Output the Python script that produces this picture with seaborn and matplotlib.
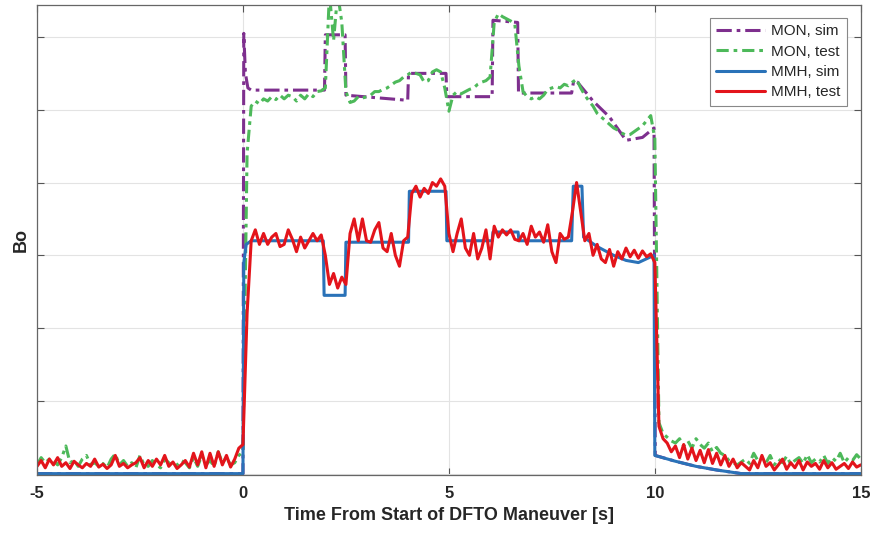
import numpy as np
import pandas as pd
import matplotlib
matplotlib.use("Agg")
import matplotlib.pyplot as plt
import seaborn as sns

# sim curves: breakpoints (y in grid units, no labels)
mon_sim_t = [-5.0, 0.0, 0.02, 0.06, 0.12, 0.2, 1.98, 2.0, 2.48, 2.5, 4.0, 4.02,
             4.93, 4.95, 6.05, 6.07, 6.67, 6.69, 7.98, 8.03, 8.12, 8.5, 8.9, 9.3,
             9.7, 9.98, 10.01, 10.5, 11.0, 11.5, 12.1, 15.0]
mon_sim_v = [0.0, 0.0, 6.05, 5.5, 5.3, 5.27, 5.27, 6.03, 6.03, 5.2, 5.13, 5.5,
             5.5, 5.18, 5.18, 6.23, 6.2, 5.23, 5.23, 5.4, 5.38, 5.12, 4.9, 4.58,
             4.62, 4.75, 0.25, 0.17, 0.1, 0.05, 0.0, 0.0]

mmh_sim_t = [-5.0, 0.0, 0.02, 0.08, 0.2, 1.95, 1.97, 2.48, 2.5, 4.02, 4.04, 4.93,
             4.95, 6.05, 6.07, 6.68, 6.7, 7.98, 8.02, 8.23, 8.27, 8.6, 9.0, 9.3,
             9.6, 9.98, 10.0, 10.5, 11.0, 11.5, 12.1, 15.0]
mmh_sim_v = [0.0, 0.0, 2.9, 3.15, 3.2, 3.2, 2.45, 2.45, 3.18, 3.18, 3.88, 3.88,
             3.2, 3.2, 3.32, 3.32, 3.2, 3.2, 3.95, 3.95, 3.25, 3.12, 3.0, 2.93,
             2.9, 3.0, 0.25, 0.17, 0.1, 0.05, 0.0, 0.0]

# test curves: sampled every 0.1 s from -5 to 15
test_t = np.round(np.linspace(-5, 15, 201), 1)

mon_test_v = [
    0.12, 0.22, 0.15, 0.20, 0.18, 0.12, 0.22, 0.38, 0.15, 0.18,
    0.10, 0.20, 0.25, 0.12, 0.15, 0.10, 0.14, 0.08, 0.20, 0.27,
    0.12, 0.18, 0.10, 0.15, 0.08, 0.25, 0.12, 0.10, 0.18, 0.12,
    0.08, 0.20, 0.15, 0.10, 0.12, 0.18, 0.15, 0.08, 0.22, 0.10,
    0.25, 0.12, 0.18, 0.10, 0.30, 0.15, 0.22, 0.12, 0.15, 0.25,
    0.30, 4.40, 5.05, 5.12, 5.08, 5.15, 5.12, 5.18, 5.14, 5.20,
    5.15, 5.20, 5.18, 5.12, 5.20, 5.15, 5.22, 5.18, 5.25, 5.26,
    5.30, 6.60, 5.95, 6.60, 6.20, 5.25, 5.10, 5.12, 5.18, 5.16,
    5.18, 5.20, 5.25, 5.25, 5.28, 5.30, 5.34, 5.38, 5.40, 5.45,
    5.48, 5.52, 5.50, 5.48, 5.38, 5.40, 5.52, 5.55, 5.52, 5.30,
    4.98, 5.20, 5.25, 5.22, 5.25, 5.28, 5.30, 5.35, 5.38, 5.40,
    5.45, 6.20, 6.32, 6.28, 6.25, 6.22, 6.18, 5.60, 5.25, 5.18,
    5.15, 5.18, 5.15, 5.20, 5.28, 5.30, 5.32, 5.30, 5.35, 5.33,
    5.38, 5.42, 5.30, 5.20, 5.12, 5.05, 4.95, 4.90, 4.85, 4.80,
    4.75, 4.72, 4.68, 4.65, 4.66, 4.70, 4.74, 4.78, 4.85, 4.92,
    4.60,
    0.70, 0.55, 0.50, 0.45, 0.42, 0.48, 0.38, 0.45, 0.35, 0.48,
    0.40, 0.35, 0.42, 0.30, 0.36, 0.28, 0.25, 0.18, 0.15, 0.12,
    0.16, 0.20, 0.14, 0.28, 0.18, 0.22, 0.15, 0.25, 0.12, 0.20,
    0.15, 0.24, 0.13, 0.18, 0.22, 0.14, 0.26, 0.15, 0.20, 0.16,
    0.25, 0.14, 0.22, 0.17, 0.28, 0.15, 0.22, 0.18, 0.26, 0.20,
]

mmh_test_v = [
    0.10, 0.18, 0.08, 0.20, 0.12, 0.22, 0.10, 0.15, 0.07, 0.17,
    0.12, 0.08, 0.14, 0.10, 0.20, 0.09, 0.13, 0.07, 0.12, 0.25,
    0.10, 0.14, 0.08, 0.12, 0.15, 0.22, 0.08, 0.18, 0.10, 0.20,
    0.12, 0.25, 0.10, 0.16, 0.07, 0.12, 0.18, 0.09, 0.28, 0.12,
    0.30, 0.08, 0.28, 0.10, 0.30, 0.12, 0.25, 0.09, 0.20, 0.35,
    0.40, 2.20, 3.20, 3.35, 3.15, 3.30, 3.15, 3.25, 3.30, 3.12,
    3.15, 3.35, 3.22, 3.05, 3.25, 3.10, 3.20, 3.30, 3.20, 3.28,
    3.00, 2.60, 2.75, 2.55, 2.70, 2.60, 3.30, 3.50, 3.20, 3.50,
    3.20, 3.18, 3.35, 3.45, 3.10, 3.05, 3.30, 3.00, 2.85, 3.20,
    3.25, 3.85, 3.95, 3.80, 3.92, 3.85, 4.00, 3.95, 4.05, 3.95,
    3.30, 3.05, 3.30, 3.50, 3.10, 3.00, 3.30, 2.95, 3.10, 3.35,
    2.95, 3.40, 3.25, 3.35, 3.28, 3.35, 3.22, 3.20, 3.30, 3.15,
    3.40, 3.25, 3.32, 3.18, 3.42, 3.05, 2.90, 3.30, 3.22, 3.25,
    3.60, 4.00, 3.60, 3.20, 3.30, 3.00, 3.15, 2.95, 2.90, 3.08,
    2.85, 3.05, 2.95, 3.10, 2.98, 3.07, 2.96, 3.06, 2.98, 3.02,
    2.90,
    0.65, 0.48, 0.42, 0.30, 0.38, 0.22, 0.40, 0.20, 0.35, 0.18,
    0.32, 0.15, 0.33, 0.14, 0.28, 0.12, 0.25, 0.10, 0.20, 0.08,
    0.15, 0.10, 0.05, 0.18, 0.08, 0.25, 0.10, 0.15, 0.05, 0.12,
    0.20, 0.06, 0.15, 0.08, 0.18, 0.05, 0.16, 0.10, 0.14, 0.06,
    0.18, 0.08, 0.15, 0.06, 0.10, 0.14, 0.07, 0.16, 0.09, 0.12,
]

labels = ["MON, sim", "MON, test", "MMH, sim", "MMH, test"]
colors = ["#7E2F8E", "#4DB95A", "#2A72B8", "#E3141B"]
styles = [(0, (5, 1.6, 1.2, 1.6)), (0, (4, 1.6, 1.2, 1.6)), "-", "-"]

sns.set_theme(style="ticks")
plt.rcParams["font.family"] = ["Liberation Sans", "DejaVu Sans"]
plt.rcParams["axes.unicode_minus"] = False

fig = plt.figure(figsize=(8.73, 5.35), dpi=100)
ax = fig.add_axes([0.0424, 0.112, 0.9436, 0.8787])

series = [(mon_sim_t, mon_sim_v), (test_t, mon_test_v),
          (mmh_sim_t, mmh_sim_v), (test_t, mmh_test_v)]
for (t, v), lab, col, ls in zip(series, labels, colors, styles):
    df = pd.DataFrame({"t": t, "v": v})
    sns.lineplot(data=df, x="t", y="v", ax=ax, color=col, linestyle=ls,
                 linewidth=2.2, label=lab, estimator=None, sort=False)

ax.set_xlim(-5, 15)
ax.set_ylim(-0.02, 6.44)
ax.set_xticks([-5, 0, 5, 10, 15])
ax.set_yticks(range(0, 7))
ax.set_yticklabels([])
ax.grid(True, color="#e3e3e3", linewidth=0.8)
ax.tick_params(axis="both", direction="in", length=5, width=0.8, colors="#555555",
               top=True, right=True)
ax.tick_params(axis="x", labelsize=12, labelcolor="#262626", pad=8)
for lab in ax.get_xticklabels():
    lab.set_fontweight("bold")
for sp in ax.spines.values():
    sp.set_color("#666666")
    sp.set_linewidth(0.9)

ax.set_xlabel("Time From Start of DFTO Maneuver [s]", fontsize=13,
              fontweight="bold", color="#262626", labelpad=4)
ax.set_ylabel("Bo", fontsize=13, fontweight="bold", color="#262626", labelpad=2)

leg = ax.legend(loc="upper right", bbox_to_anchor=(0.983, 0.972), borderaxespad=0,
                fontsize=11, handlelength=3.2, handletextpad=0.4,
                labelspacing=0.42, borderpad=0.4,
                fancybox=False, framealpha=1, edgecolor="#888888")
leg.get_frame().set_linewidth(0.8)

fig.savefig("out.png", dpi=100)
